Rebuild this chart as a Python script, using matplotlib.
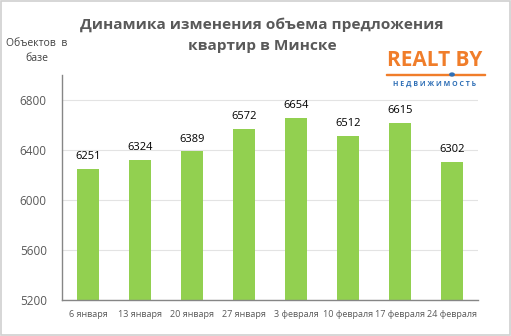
import matplotlib
matplotlib.use("Agg")
import matplotlib.pyplot as plt
from matplotlib.patches import Rectangle

dates = ["6 января", "13 января", "20 января", "27 января",
         "3 февраля", "10 февраля", "17 февраля", "24 февраля"]
counts = [6251, 6324, 6389, 6572, 6654, 6512, 6615, 6302]
yticks = [5200, 5600, 6000, 6400, 6800]

GREEN = "#92d050"
GREY = "#595959"
ORANGE = "#f07d2a"
BLUE = "#2e6fb6"

plt.rcParams["font.family"] = ["Open Sans", "DejaVu Sans"]

fig = plt.figure(figsize=(5.11, 3.36), dpi=100)
ax = fig.add_axes([62 / 511, 1 - 300 / 336, 416 / 511, 225 / 336])

x = range(len(dates))
ax.bar(x, counts, width=0.41, color=GREEN, zorder=2)
for i, v in enumerate(counts):
    ax.text(i, v + 55, str(v), ha="center", va="bottom", fontsize=8, color="black")

ax.set_xlim(-0.5, len(dates) - 0.5)
ax.set_ylim(5200, 7000)
ax.set_yticks(yticks)
ax.set_yticklabels([str(t) for t in yticks], fontsize=8.5, color=GREY)
ax.set_xticks(list(x))
ax.set_xticklabels(dates, fontsize=6.5, color=GREY)
ax.tick_params(axis="both", length=0, pad=7)
ax.tick_params(axis="y", pad=11)
ax.grid(axis="y", color="#e3e3e3", lw=0.8, zorder=0)
for s in ("top", "right"):
    ax.spines[s].set_visible(False)
for s in ("left", "bottom"):
    ax.spines[s].set_color("#868686")
    ax.spines[s].set_linewidth(1)

# title and axis caption
fig.text(262 / 511, 1 - 35 / 336, "Динамика изменения объема предложения\nквартир в Минске",
         ha="center", va="center", fontsize=11.1, fontweight="bold", color=GREY,
         linespacing=1.65)
fig.text(37 / 511, 1 - 51 / 336, "Объектов  в\nбазе", ha="center", va="center",
         fontsize=7.5, color="#404040", linespacing=1.6)

# logo
fig.text(435 / 511, 1 - 61 / 336, "REALT BY", ha="center", va="center",
         fontsize=15, fontweight="bold", color=ORANGE)
fig.add_artist(Rectangle((386 / 511, 1 - 75 / 336), 99 / 511, 1.4 / 336,
                         transform=fig.transFigure, color=ORANGE))
fig.add_artist(plt.Circle((452 / 511, 1 - 74.5 / 336), 2.2 / 511,
                          transform=fig.transFigure, color=BLUE))
fig.text(435 / 511, 1 - 84 / 336, "Н Е Д В И Ж И М О С Т Ь", ha="center", va="center",
         fontsize=5, fontweight="bold", color=BLUE)

# outer frame
fig.add_artist(Rectangle((1 / 511, 1 / 336), 509 / 511, 334 / 336, transform=fig.transFigure,
                         fill=False, edgecolor="#d0d0d0", lw=1.2))

fig.savefig("out.png", dpi=100)
